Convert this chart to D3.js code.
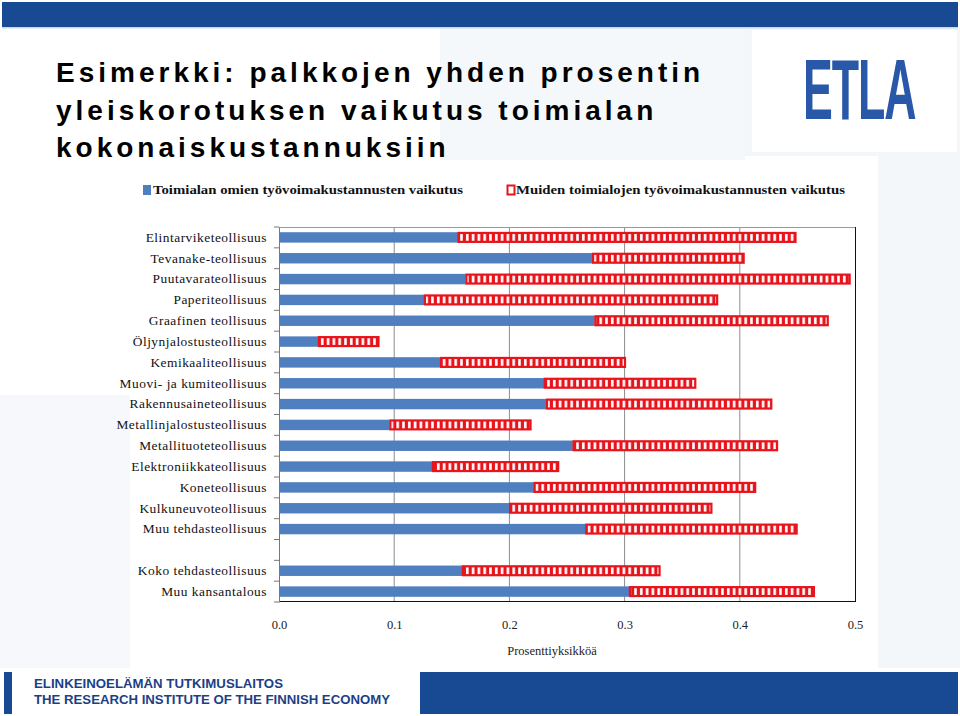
<!DOCTYPE html>
<html><head><meta charset="utf-8">
<script src="https://cdn.jsdelivr.net/npm/d3@7"></script>
<style>body{margin:0;background:#fff}svg{display:block}</style>
</head><body>
<svg id="c" width="960" height="716"></svg>
<script>
const categories = ["Elintarviketeollisuus","Tevanake-teollisuus","Puutavarateollisuus","Paperiteollisuus","Graafinen teollisuus","Öljynjalostusteollisuus","Kemikaaliteollisuus","Muovi- ja kumiteollisuus","Rakennusaineteollisuus","Metallinjalostusteollisuus","Metallituoteteollisuus","Elektroniikkateollisuus","Koneteollisuus","Kulkuneuvoteollisuus","Muu tehdasteollisuus","","Koko tehdasteollisuus","Muu kansantalous"];
const ownValues   = [0.155,0.272,0.162,0.126,0.274,0.034,0.140,0.230,0.232,0.096,0.255,0.133,0.221,0.200,0.266,null,0.159,0.304];
const otherValues = [0.294,0.132,0.334,0.255,0.203,0.053,0.161,0.132,0.196,0.123,0.178,0.110,0.193,0.176,0.184,null,0.172,0.161];
const xTicks = [0.0,0.1,0.2,0.3,0.4,0.5];
const seriesNames = ["Toimialan omien työvoimakustannusten vaikutus","Muiden toimialojen työvoimakustannusten vaikutus"];
const titleLines = ["Esimerkki: palkkojen yhden prosentin","yleiskorotuksen vaikutus toimialan","kokonaiskustannuksiin"];
const axisTitle = "Prosenttiyksikköä";
const footerLines = ["ELINKEINOELÄMÄN TUTKIMUSLAITOS","THE RESEARCH INSTITUTE OF THE FINNISH ECONOMY"];

const svg = d3.select("#c");
const BLUE = "#4f7fbf", RED = "#e8141c", NAVY = "#184a94";

// pattern for red bars
const defs = svg.append("defs");
const pat = defs.append("pattern").attr("id","stripe").attr("patternUnits","userSpaceOnUse")
  .attr("width",5.8).attr("height",200);
pat.append("rect").attr("width",5.8).attr("height",200).attr("fill",RED);
pat.append("rect").attr("x",2).attr("width",2.6).attr("height",200).attr("fill","#fff");

// slide background
svg.append("rect").attr("width",960).attr("height",716).attr("fill","#ffffff");
svg.append("polygon").attr("points","440,28 745,28 745,160 440,160").attr("fill","#f5f8fb");
svg.append("polygon").attr("points","878,156 960,156 960,668 878,668").attr("fill","#f4f7fa");
svg.append("polygon").attr("points","0,395 130,395 130,668 0,668").attr("fill","#f6f8fb");
svg.append("rect").attr("x",745).attr("y",28).attr("width",215).attr("height",128).attr("fill","#f4f7fa");
svg.append("rect").attr("x",752).attr("y",30).attr("width",205).attr("height",122).attr("fill","#fff");

// top band
svg.append("rect").attr("x",2).attr("y",2).attr("width",956).attr("height",25).attr("fill",NAVY);
svg.append("rect").attr("x",2).attr("y",27).attr("width",956).attr("height",1.5).attr("fill","#c8d8ee");

// title
const tt = svg.append("g");
titleLines.forEach((t,i)=>{
  tt.append("text").attr("x",56).attr("y",82+i*37.5).text(t)
    .attr("font-family","Liberation Sans, Arial, sans-serif").attr("font-weight","bold")
    .attr("font-size",28).attr("letter-spacing",4).attr("fill","#000");
});

// ETLA logo
svg.append("text").attr("transform","translate(803,119) scale(0.52,1)").text("ETLA")
  .attr("font-family","Liberation Sans, Arial, sans-serif").attr("font-weight","bold")
  .attr("font-size",86).attr("fill","#2a58a8").attr("letter-spacing",-2);

// chart panel
svg.append("rect").attr("x",130).attr("y",168).attr("width",748).attr("height",500).attr("fill","#fff");

const x = d3.scaleLinear().domain([0,0.5]).range([279,855]);
const y = d3.scaleBand().domain(d3.range(categories.length)).range([227,602]).paddingInner(0.5).paddingOuter(0.25);

const g = svg.append("g");
// gridlines
g.selectAll("line.grid").data(xTicks.slice(1,-1)).join("line")
  .attr("x1",d=>x(d)).attr("x2",d=>x(d)).attr("y1",227).attr("y2",602)
  .attr("stroke","#8c8c8c").attr("stroke-width",1);
// frame
g.append("line").attr("x1",279).attr("x2",855).attr("y1",227.5).attr("y2",227.5).attr("stroke","#9a9a9a");
g.append("line").attr("x1",855.5).attr("x2",855.5).attr("y1",227).attr("y2",602).attr("stroke","#111");
g.append("line").attr("x1",279).attr("x2",856).attr("y1",601.5).attr("y2",601.5).attr("stroke","#111");

// y axis
const yAxis = d3.axisLeft(y).tickFormat(i=>categories[i]).tickSize(0).tickPadding(12);
const ya = g.append("g").attr("transform","translate(279,0)").call(yAxis);
ya.select(".domain").attr("stroke","#777");
ya.selectAll("text").attr("font-family","Liberation Serif, Times New Roman, serif").attr("font-size",13.4)
  .attr("letter-spacing",0.5).attr("fill","#111");
// category boundary ticks
const bounds = d3.range(categories.length+1).map(i=>227 + i*(602-227)/categories.length);
g.selectAll("line.bt").data(bounds).join("line").attr("x1",274).attr("x2",279)
  .attr("y1",d=>d).attr("y2",d=>d).attr("stroke","#777");

// x axis labels
const xAxis = d3.axisBottom(x).tickValues(xTicks).tickFormat(d3.format(".1f")).tickSize(0).tickPadding(18);
const xa = g.append("g").attr("transform","translate(0,602)").call(xAxis);
xa.select(".domain").remove();
xa.selectAll("text").attr("font-family","Liberation Serif, Times New Roman, serif").attr("font-size",12.5).attr("fill","#222");
g.append("text").attr("x",552).attr("y",655).attr("text-anchor","middle").text(axisTitle)
  .attr("font-family","Liberation Serif, Times New Roman, serif").attr("font-size",12.5).attr("fill","#222");

// bars
const rows = categories.map((c,i)=>({i,own:ownValues[i],other:otherValues[i]})).filter(d=>d.own!==null);
g.selectAll("rect.own").data(rows).join("rect")
  .attr("x",x(0)).attr("y",d=>y(d.i)).attr("width",d=>x(d.own)-x(0)).attr("height",y.bandwidth())
  .attr("fill",BLUE);
g.selectAll("rect.other").data(rows).join("rect")
  .attr("x",d=>x(d.own)+0.75).attr("y",d=>y(d.i)+0.75).attr("width",d=>x(d.own+d.other)-x(d.own)-1.5).attr("height",y.bandwidth()-1.5)
  .attr("fill","url(#stripe)").attr("stroke",RED).attr("stroke-width",2.2);

// legend
const lg = svg.append("g").attr("font-family","Liberation Serif, Times New Roman, serif").attr("font-size",12.6).attr("font-weight","bold").attr("fill","#111");
lg.append("rect").attr("x",143).attr("y",185).attr("width",8).attr("height",10).attr("fill",BLUE);
lg.append("text").attr("x",153).attr("y",194).text(seriesNames[0]).attr("textLength",310).attr("lengthAdjust","spacingAndGlyphs");
lg.append("rect").attr("x",507.5).attr("y",185.5).attr("width",7).attr("height",9).attr("fill","#fff").attr("stroke",RED).attr("stroke-width",2);
lg.append("text").attr("x",516).attr("y",194).text(seriesNames[1]).attr("textLength",329).attr("lengthAdjust","spacingAndGlyphs");

// footer
svg.append("rect").attr("x",4).attr("y",672).attr("width",8).attr("height",42).attr("fill",NAVY);
svg.append("rect").attr("x",420).attr("y",672).attr("width",538).attr("height",42).attr("fill",NAVY);
const fLen = [249, 356];
footerLines.forEach((t,i)=>{
  svg.append("text").attr("x",34).attr("y",688+i*15.5).text(t)
    .attr("font-family","Liberation Sans, Arial, sans-serif").attr("font-weight","bold")
    .attr("font-size",13).attr("fill","#1c3f86")
    .attr("textLength",fLen[i]).attr("lengthAdjust","spacingAndGlyphs");
});
</script>
</body></html>
